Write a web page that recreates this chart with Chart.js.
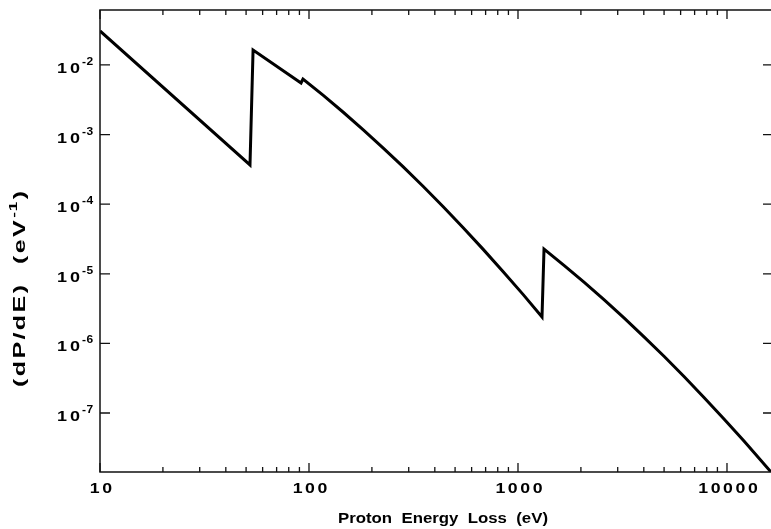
<!DOCTYPE html>
<html>
<head>
<meta charset="utf-8">
<script src="https://cdn.jsdelivr.net/npm/chart.js@4.4.1/dist/chart.umd.min.js"></script>
<style>
  html, body { margin: 0; padding: 0; background: #fff; }
  canvas { display: block; }
</style>
</head>
<body>
<canvas id="grafico" width="771" height="529"></canvas>
<script>
// Datos (energia en eV, dP/dE en 1/eV)
const energias = [
    10, 52.2,
    54.0, 91.6,
    93.6, 116.7, 145.4, 181.3, 226, 281.7, 351.3, 437.7, 545.5, 680, 847.6, 1057, 1303,
    1332, 1660, 2069, 2579, 3215, 4008, 4996, 6229, 7762, 9675, 12060, 16240
];
const dPdE = [
    0.0308, 3.66e-4,
    1.64e-2, 5.51e-3,
    6.29e-3, 3.68e-3, 2.11e-3, 1.18e-3, 6.46e-4, 3.46e-4, 1.81e-4, 9.24e-5, 4.62e-5, 2.26e-5, 1.08e-5, 5.06e-6, 2.39e-6,
    2.27e-5, 1.32e-5, 7.57e-6, 4.24e-6, 2.32e-6, 1.24e-6, 6.53e-7, 3.34e-7, 1.67e-7, 8.22e-8, 3.96e-8, 1.42e-8
];

// Marcas de los ejes
const xMarcas = [10, 100, 1000, 10000];
const xEtiquetas = ['10', '100', '1000', '10000'];
const xMenores = [2, 3, 4, 5, 6, 7, 8, 9];
const yExponentes = [-2, -3, -4, -5, -6, -7];

const xMin = 10, xMax = 16240;
const yMin = 1.42e-8, yMax = 0.0616;

const FUENTE = '"Liberation Sans", Arial, Helvetica, sans-serif';

// Texto en negrita estirado en horizontal (la figura original usa letras anchas)
function textoAncho(ctx, txt, x, y, size, sx, align, esp) {
    ctx.save();
    ctx.font = 'bold ' + size + 'px ' + FUENTE;
    ctx.letterSpacing = (esp || 0) + 'px';
    const w = (ctx.measureText(txt).width - (esp || 0)) * sx;
    let x0 = x;
    if (align === 'center') x0 = x - w / 2;
    if (align === 'right') x0 = x - w;
    ctx.translate(x0, y);
    ctx.scale(sx, 1);
    ctx.textAlign = 'left';
    ctx.fillText(txt, 0, 0);
    ctx.restore();
    return w;
}

function anchoTexto(ctx, txt, size, sx, esp) {
    ctx.save();
    ctx.font = 'bold ' + size + 'px ' + FUENTE;
    ctx.letterSpacing = (esp || 0) + 'px';
    const w = (ctx.measureText(txt).width - (esp || 0)) * sx;
    ctx.restore();
    return w;
}

// Dibuja el marco, las marcas hacia adentro y las etiquetas con superindice
const decoracionEjes = {
    id: 'decoracionEjes',
    afterDraw(chart) {
        const ctx = chart.ctx;
        const a = chart.chartArea;
        const x = chart.scales.x;
        const y = chart.scales.y;

        ctx.save();
        ctx.strokeStyle = '#111';
        ctx.lineWidth = 1.5;

        // marco (el lado derecho queda fuera de la imagen)
        ctx.beginPath();
        ctx.moveTo(a.right, a.top);
        ctx.lineTo(a.left, a.top);
        ctx.lineTo(a.left, a.bottom);
        ctx.lineTo(a.right, a.bottom);
        ctx.stroke();

        // marcas del eje x (abajo y arriba)
        ctx.lineWidth = 1.3;
        ctx.beginPath();
        xMarcas.forEach(function(v) {
            const px = x.getPixelForValue(v);
            ctx.moveTo(px, a.bottom); ctx.lineTo(px, a.bottom - 9);
            ctx.moveTo(px, a.top); ctx.lineTo(px, a.top + 9);
            xMenores.forEach(function(m) {
                const vm = v * m;
                if (vm > xMax) return;
                const pm = x.getPixelForValue(vm);
                ctx.moveTo(pm, a.bottom); ctx.lineTo(pm, a.bottom - 5);
                ctx.moveTo(pm, a.top); ctx.lineTo(pm, a.top + 5);
            });
        });
        // marcas del eje y (izquierda y derecha)
        yExponentes.forEach(function(e) {
            const py = y.getPixelForValue(Math.pow(10, e));
            ctx.moveTo(a.left, py); ctx.lineTo(a.left + 10, py);
            ctx.moveTo(a.right, py); ctx.lineTo(a.right - 8, py);
        });
        ctx.stroke();

        ctx.fillStyle = '#000';
        ctx.textBaseline = 'alphabetic';

        // etiquetas del eje x
        xMarcas.forEach(function(v, i) {
            const px = x.getPixelForValue(v);
            textoAncho(ctx, xEtiquetas[i], px + 1, 493, 15, 1.18, 'center', 2.2);
        });

        // etiquetas del eje y: 10 con exponente
        yExponentes.forEach(function(e) {
            const py = y.getPixelForValue(Math.pow(10, e));
            textoAncho(ctx, '10', 57, py + 8, 15, 1.2, 'left', 2.5);
            textoAncho(ctx, String(e), 82, py, 10, 1.2, 'left', 0.5);
        });

        // titulo del eje x
        textoAncho(ctx, 'Proton  Energy  Loss  (eV)', 443, 523, 15, 1.12, 'center');

        // titulo del eje y (rotado), ajustado al largo que tiene en la figura
        ctx.translate(25, 289);
        ctx.rotate(-Math.PI / 2);
        const parte1 = '(dP/dE)  (eV';
        const sup = '-1';
        const parte2 = ')';
        const largo = 196;
        const base = anchoTexto(ctx, parte1, 16, 1, 1.5) + 1.5 + anchoTexto(ctx, sup, 11, 1, 0.5) + 1.5 + anchoTexto(ctx, parte2, 16, 1, 1.5);
        const s = largo / base;
        let cx = -largo / 2;
        cx += textoAncho(ctx, parte1, cx, 0, 16, s, 'left', 1.5) + 1.5 * s;
        cx += textoAncho(ctx, sup, cx, -8, 11, s, 'left', 0.5) + 1.5 * s;
        textoAncho(ctx, parte2, cx, 0, 16, s, 'left', 1.5);

        ctx.restore();
    }
};

const puntos = energias.map((e, i) => ({ x: e, y: dPdE[i] }));

const ctxGrafico = document.getElementById('grafico').getContext('2d');
window.grafico = new Chart(ctxGrafico, {
    type: 'line',
    data: {
        datasets: [{
            data: puntos,
            borderColor: '#000',
            borderWidth: 3,
            pointRadius: 0,
            tension: 0,
            fill: false
        }]
    },
    options: {
        responsive: false,
        animation: false,
        layout: {
            padding: { top: 10, right: 0, left: 0, bottom: 0 }
        },
        scales: {
            x: {
                type: 'logarithmic',
                min: xMin,
                max: xMax,
                ticks: { display: false },
                grid: { display: false },
                border: { display: false },
                afterFit: function(scale) { scale.height = 57; }
            },
            y: {
                type: 'logarithmic',
                min: yMin,
                max: yMax,
                ticks: { display: false },
                grid: { display: false },
                border: { display: false },
                afterFit: function(scale) { scale.width = 100; }
            }
        },
        plugins: {
            legend: { display: false },
            tooltip: { enabled: false }
        }
    },
    plugins: [decoracionEjes]
});
</script>
</body>
</html>
